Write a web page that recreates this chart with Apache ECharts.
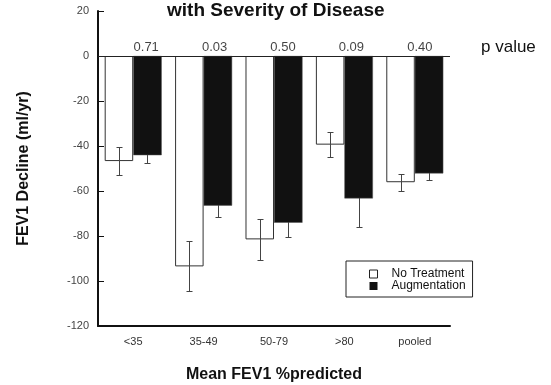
<!DOCTYPE html>
<html>
<head>
<meta charset="utf-8">
<script src="https://cdn.jsdelivr.net/npm/echarts@6/dist/echarts.min.js"></script>
<style>
  html, body { margin: 0; padding: 0; background: #fff; }
  #box { width: 551px; height: 385px; }
</style>
</head>
<body>
<div id="box"></div>
<script>
// groups of mean FEV1 %predicted
var categories = ['<35', '35-49', '50-79', '>80', 'pooled'];
// mean decline (ml/yr) and error
var noTreatment = [-46.7, -93.5, -81.5, -39.4, -56.1];
var noTreatmentErr = [6.2, 11.1, 9.0, 5.6, 3.7];
var augmentation = [-44.1, -66.5, -74.1, -63.3, -52.2];
var augmentationErr = [3.6, 5.2, 6.5, 12.7, 2.8];
var pValues = ['0.71', '0.03', '0.50', '0.09', '0.40'];
var yTicks = { min: -120, max: 20, step: 20 };

var font = 'Liberation Sans, Arial, sans-serif';

function errData(means, errs) {
  return means.map(function (m, i) { return [i, m, errs[i]]; });
}

// draws one error bar, side = -1 left bar, +1 right bar
function errRenderer(side) {
  return function (params, api) {
    var idx = api.value(0), m = api.value(1), e = api.value(2);
    var top = api.coord([idx, m + e]);
    var bot = api.coord([idx, m - e]);
    var band = api.size([1, 0])[0];
    var x = Math.round(top[0] + side * band * 0.2025) + 0.5;
    var y1 = Math.round(top[1]) + 0.5, y2 = Math.round(bot[1]) + 0.5;
    var st = { stroke: '#444', lineWidth: 1 };
    return {
      type: 'group',
      children: [
        { type: 'line', shape: { x1: x, y1: y1, x2: x, y2: y2 }, style: st },
        { type: 'line', shape: { x1: x - 3, y1: y1, x2: x + 3, y2: y1 }, style: st },
        { type: 'line', shape: { x1: x - 3, y1: y2, x2: x + 3, y2: y2 }, style: st }
      ]
    };
  };
}

var chart = echarts.init(document.getElementById('box'));

var option = {
  backgroundColor: '#fff',
  animation: false,
  textStyle: { fontFamily: font },
  title: {
    text: 'with Severity of Disease',
    left: 162,
    top: -4,
    textStyle: { fontSize: 19, fontWeight: 'bold', color: '#111', fontFamily: font }
  },
  graphic: [
    {
      type: 'text', left: 481, top: 39,
      style: { text: 'p value', fontSize: 17, fill: '#111', fontFamily: font }
    }
  ],
  legend: {
    data: [
      { name: 'No Treatment', itemStyle: { color: '#fff', borderColor: '#222', borderWidth: 1 } },
      { name: 'Augmentation', itemStyle: { color: '#111', borderWidth: 0 } }
    ],
    orient: 'vertical',
    left: 346,
    top: 261,
    borderColor: '#222',
    borderWidth: 1,
    padding: [7, 7, 5, 23],
    itemWidth: 8,
    itemHeight: 8,
    itemGap: 0,
    icon: 'rect',
    textStyle: { fontSize: 12, color: '#111', lineHeight: 11, padding: [0, 0, 0, 9], fontFamily: font }
  },
  grid: [
    { left: 98, right: 101, top: 11, bottom: 59, outerBoundsMode: 'none', containLabel: false },
    { left: 112, right: 97, top: 11, bottom: 59, outerBoundsMode: 'none', containLabel: false }
  ],
  xAxis: [
    {
      type: 'category',
      gridIndex: 0,
      data: categories,
      axisLine: { onZero: false, lineStyle: { color: '#111', width: 2 } },
      axisTick: { inside: true, length: 4, interval: 0, lineStyle: { color: '#111' } },
      axisLabel: { fontSize: 11, color: '#333', margin: 10, interval: 0 },
      name: 'Mean FEV1 %predicted',
      nameLocation: 'middle',
      nameGap: 41,
      nameTextStyle: { fontSize: 16, fontWeight: 'bold', color: '#111' }
    },
    {
      type: 'category',
      gridIndex: 1,
      data: categories,
      show: false
    }
  ],
  yAxis: [
    {
      type: 'value',
      gridIndex: 0,
      min: yTicks.min,
      max: yTicks.max,
      interval: yTicks.step,
      axisLine: { show: true, lineStyle: { color: '#111', width: 2 } },
      axisTick: { show: true, inside: true, length: 6, lineStyle: { color: '#111' } },
      axisLabel: { fontSize: 11, color: '#444', margin: 9 },
      splitLine: { show: false },
      name: 'FEV1 Decline (ml/yr)',
      nameLocation: 'middle',
      nameGap: 66,
      nameRotate: 90,
      nameTextStyle: { fontSize: 16, fontWeight: 'bold', color: '#111' }
    },
    {
      type: 'value',
      gridIndex: 1,
      min: yTicks.min,
      max: yTicks.max,
      show: false
    }
  ],
  series: [
    {
      name: 'No Treatment',
      type: 'bar',
      data: noTreatment,
      barWidth: '40.5%',
      barGap: '0%',
      z: 2,
      itemStyle: { color: '#fff', borderColor: '#333', borderWidth: 1 },
      markLine: {
        silent: true,
        symbol: 'none',
        label: { show: false },
        lineStyle: { color: '#222', width: 1, type: 'solid' },
        data: [{ yAxis: 0 }]
      }
    },
    {
      name: 'Augmentation',
      type: 'bar',
      data: augmentation,
      barWidth: '40.5%',
      barGap: '0%',
      z: 2,
      itemStyle: { color: '#111', borderColor: '#555', borderWidth: 0.5 }
    },
    {
      type: 'custom',
      data: errData(noTreatment, noTreatmentErr),
      renderItem: errRenderer(-1),
      z: 3,
      silent: true
    },
    {
      type: 'custom',
      data: errData(augmentation, augmentationErr),
      renderItem: errRenderer(1),
      z: 1,
      silent: true
    },
    {
      type: 'scatter',
      xAxisIndex: 1,
      yAxisIndex: 1,
      data: pValues.map(function () { return 0; }),
      symbolSize: 1,
      itemStyle: { color: 'rgba(0,0,0,0)' },
      label: {
        show: true,
        position: 'top',
        distance: 2,
        fontSize: 13,
        color: '#111',
        formatter: function (p) { return pValues[p.dataIndex]; }
      }
    }
  ]
};

chart.setOption(option);
</script>
</body>
</html>
